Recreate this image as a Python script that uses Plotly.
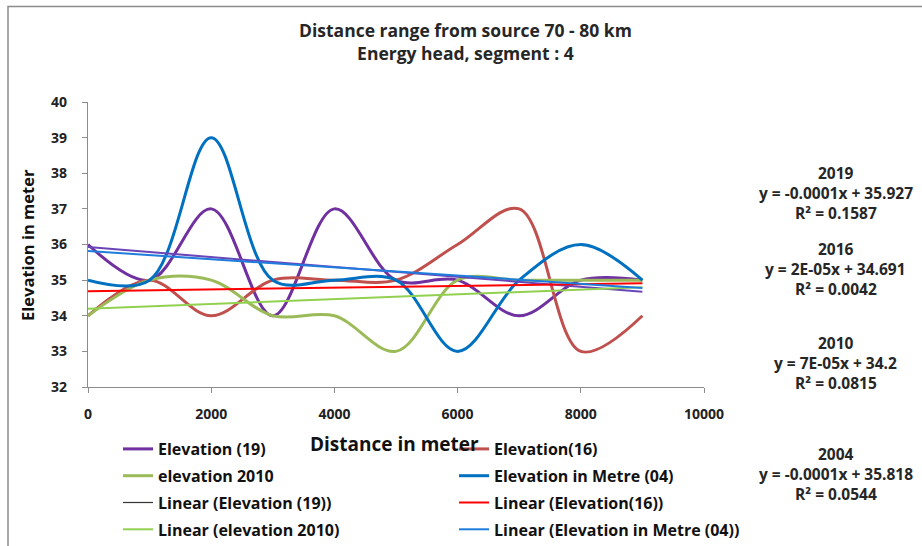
import numpy as np
import plotly.graph_objects as go

# ---------------- data ----------------
distance = [0, 1000, 2000, 3000, 4000, 5000, 6000, 7000, 8000, 9000]
elev_19 = [36, 35, 37, 34, 37, 35, 35, 34, 35, 35]
elev_16 = [34, 35, 34, 35, 35, 35, 36, 37, 33, 34]
elev_2010 = [34, 35, 35, 34, 34, 33, 35, 35, 35, 35]
elev_04 = [35, 35, 39, 35, 35, 35, 33, 35, 36, 35]

series_names = ["Elevation (19)", "Elevation(16)", "elevation 2010", "Elevation in Metre (04)"]
trend_names = ["Linear (Elevation (19))", "Linear (Elevation(16))",
               "Linear (elevation 2010)", "Linear (Elevation in Metre (04))"]

title_lines = ["Distance range from source 70 - 80 km", "Energy head, segment : 4"]
eq_years = ["2019", "2016", "2010", "2004"]
eq_lines = ["y = -0.0001x + 35.927", "y = 2E-05x + 34.691",
            "y = 7E-05x + 34.2", "y = -0.0001x + 35.818"]
eq_r2 = ["R² = 0.1587", "R² = 0.0042", "R² = 0.0815", "R² = 0.0544"]

x_ticks = [0, 2000, 4000, 6000, 8000, 10000]
y_ticks = [32, 33, 34, 35, 36, 37, 38, 39, 40]

# ---------------- styling ----------------
FONT = "Open Sans"
TXT = "#262626"
series_colors = ["#7030A0", "#C0504D", "#9BBB59", "#0070C0"]
trend_colors = ["#6A45B8", "#FF0000", "#92D050", "#1E7DDC"]
legend_of = ["legend", "legend2", "legend", "legend2"]

# plot area in pixels
W, H = 922, 546
L, R, T, B = 88, 704, 102, 387


def px(xp):
    return (xp - L) / (R - L)


def py(yp):
    return (B - yp) / (B - T)


fig = go.Figure()
all_series = [elev_19, elev_16, elev_2010, elev_04]
for i, ys in enumerate(all_series):
    fig.add_trace(go.Scatter(
        x=distance, y=ys, mode="lines", name=series_names[i],
        line=dict(color=series_colors[i], width=3, shape="spline", smoothing=1.0),
        legend=legend_of[i], legendgroup=f"s{i}", hoverinfo="x+y+name"))

xa = np.array(distance, dtype=float)
for i, ys in enumerate(all_series):
    slope, icpt = np.polyfit(xa, np.array(ys, dtype=float), 1)
    fit = slope * xa + icpt
    if i == 0:
        fig.add_trace(go.Scatter(
            x=distance, y=fit, mode="lines", showlegend=False,
            line=dict(color=trend_colors[i], width=2), hoverinfo="skip"))
        fig.add_trace(go.Scatter(
            x=[None], y=[None], mode="lines", name=trend_names[i],
            line=dict(color="#333333", width=1.2), legend="legend",
            legendgroup=f"t{i}"))
    else:
        fig.add_trace(go.Scatter(
            x=distance, y=fit, mode="lines", name=trend_names[i],
            line=dict(color=trend_colors[i], width=2), legend=legend_of[i],
            legendgroup=f"t{i}", hoverinfo="skip"))


def ann(text, xp, yp, size, color=TXT, angle=0):
    return dict(text=text, x=px(xp), y=py(yp), xref="paper", yref="paper",
                xanchor="center", yanchor="middle", showarrow=False, textangle=angle,
                font=dict(family=FONT, size=size, color=color, weight="bold"))


annotations = [
    ann("<br>".join(title_lines), 465, 41.5, 17.5),
    ann("Distance in meter", 394, 444, 19, "#111111"),
    ann("Elevation in meter", 27, 245, 16.5, "#111111", -90),
]
eq_y = [173, 249, 343, 454]
for i in range(4):
    for j, t in enumerate([eq_years[i], eq_lines[i], eq_r2[i]]):
        annotations.append(ann(t, 836, eq_y[i] + 20 * j, 15.5))

shapes = [dict(type="rect", xref="paper", yref="paper",
               x0=px(8), x1=px(930), y0=py(560), y1=py(6.5),
               line=dict(color="#8C8C8C", width=1.5), fillcolor="rgba(0,0,0,0)", layer="below")]

legend_common = dict(orientation="v", yanchor="top", xanchor="left",
                     font=dict(family=FONT, size=16, color="#111111", weight="bold"),
                     bgcolor="rgba(0,0,0,0)", tracegroupgap=3, traceorder="grouped",
                     itemwidth=30)

fig.update_layout(
    width=W, height=H,
    margin=dict(l=L, r=W - R, t=T, b=H - B, autoexpand=False),
    paper_bgcolor="white", plot_bgcolor="white",
    showlegend=True,
    legend=dict(x=px(118), y=py(432), **legend_common),
    legend2=dict(x=px(454), y=py(432), **legend_common),
    annotations=annotations,
    shapes=shapes,
    xaxis=dict(range=[0, 10000], tickvals=x_ticks, ticktext=[str(v) for v in x_ticks],
               showgrid=False, zeroline=False, showline=True, linecolor="#8C8C8C",
               linewidth=1.2, ticks="outside", ticklen=5, tickcolor="#8C8C8C",
               ticklabelstandoff=9,
               tickfont=dict(family=FONT, size=14, color="#222222", weight="bold")),
    yaxis=dict(range=[32, 40], tickvals=y_ticks, ticktext=[str(v) for v in y_ticks],
               showgrid=False, zeroline=False, showline=True, linecolor="#8C8C8C",
               linewidth=1.2, ticks="outside", ticklen=5, tickcolor="#8C8C8C",
               ticklabelstandoff=12,
               tickfont=dict(family=FONT, size=14, color="#222222", weight="bold")),
)

fig.write_html("out.html", config={"displayModeBar": False},
               post_script="document.body.style.margin='0px';")
